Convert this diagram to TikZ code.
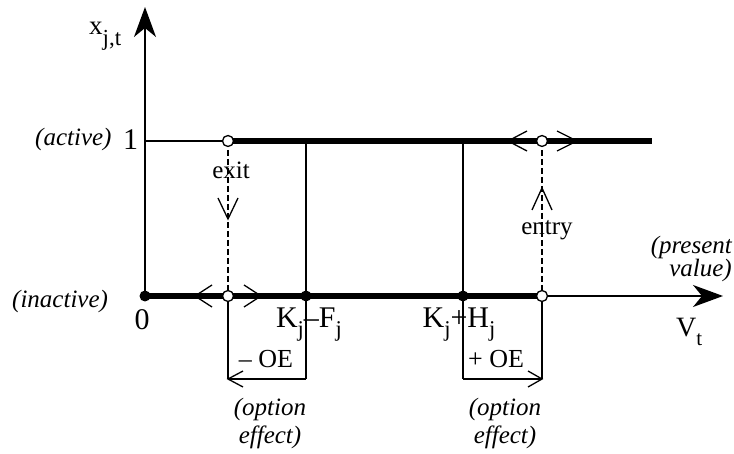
\documentclass[tikz,border=0pt]{standalone}
\usepackage{fontspec}
\setmainfont{Liberation Serif}
\usetikzlibrary{arrows.meta}
\newcommand{\lsub}[1]{\raisebox{-0.3em}{\scalebox{0.75}{#1}}}
\begin{document}
\begin{tikzpicture}[x=1pt,y=-1pt,
  thinline/.style={line width=1.4pt},
  thickline/.style={line width=5.5pt},
  dashline/.style={line width=1.9pt, dash pattern=on 6pt off 3pt},
  axisline/.style={line width=1.4pt, -{Stealth[length=30pt,width=22pt,inset=9pt]}},
  hollow/.style={circle, draw, fill=white, line width=1.3pt, inner sep=0pt, minimum size=11pt},
  soliddot/.style={circle, fill=black, inner sep=0pt, minimum size=11pt},
  barb/.style={line width=1.3pt},
  lbl/.style={font=\fontsize{25}{28}\selectfont, inner sep=0pt},
  big/.style={font=\fontsize{30}{32}\selectfont, inner sep=0pt},
  ital/.style={font=\fontsize{25}{28}\selectfont\itshape, inner sep=0pt, align=center}
]
\useasboundingbox (0,0) rectangle (734,454);
% key points
\coordinate (O) at (145,296);
\coordinate (ytip) at (145,7);
\coordinate (xtip) at (723,296);
\coordinate (Y1) at (145,141);
\coordinate (A) at (228,141);
\coordinate (A0) at (228,296);
\coordinate (A3) at (228,379);
\coordinate (B) at (306,141);
\coordinate (B0) at (306,296);
\coordinate (B3) at (306,379);
\coordinate (C) at (463,141);
\coordinate (C0) at (463,296);
\coordinate (C3) at (463,379);
\coordinate (D) at (542,141);
\coordinate (D0) at (542,296);
\coordinate (D3) at (542,379);
\coordinate (E) at (652,141);
% axes
\draw[axisline] (O) -- (ytip);
\draw[axisline] (O) -- (xtip);
% levels
\draw[thinline] (Y1) -- (A);
\draw[thickline] (A) -- (E);
\draw[thickline] (O) -- (D0);
% verticals
\draw[thinline] (B) -- (B3);
\draw[thinline] (C) -- (C3);
\draw[thinline] (A0) -- (A3);
\draw[thinline] (D0) -- (D3);
\draw[dashline] (A) -- (A0);
\draw[dashline] (D) -- (D0);
% option effect brackets
\draw[thinline] (B3) -- (A3);
\draw[barb, shift={(A3)}] (15,-8) -- (0,0) -- (15,8);
\draw[thinline] (C3) -- (D3);
\draw[barb, shift={(D3)}] (-14,-8) -- (0,0) -- (-14,8);
% direction barbs
\draw[barb, shift={(A0)}] (-16,-11) -- (-33,0) -- (-16,11);
\draw[barb, shift={(A0)}] (16,-11) -- (33,0) -- (16,11);
\draw[barb, shift={(D)}] (-15,-10) -- (-34,0) -- (-15,10);
\draw[barb, shift={(D)}] (15,-10) -- (35,0) -- (15,10);
\draw[barb, shift={(A)}] (-10,57) -- (0,78) -- (10,57);
\draw[barb, shift={(D)}] (-10,69) -- (0,47) -- (10,69);
% dots
\node[soliddot] (dO) at (O) {};
\node[soliddot] (dB) at (B0) {};
\node[soliddot] (dC) at (C0) {};
\node[hollow] (hA) at (A) {};
\node[hollow] (hA0) at (A0) {};
\node[hollow] (hD) at (D) {};
\node[hollow] (hD0) at (D0) {};
% labels
\node[lbl, font=\fontsize{27}{28}\selectfont, anchor=base west] (xlab) at (89,35) {x\raisebox{-0.4em}{\scalebox{0.85}{j,t}}};
\node[ital, anchor=base west] (act) at (35,146) {(active)};
\node[big, anchor=base west] (one) at (123,150) {1};
\node[ital, anchor=base west] (inact) at (12,308) {(inactive)};
\node[big, anchor=base] (zero) at (142,330) {0};
\node[big, anchor=base] (kf) at (309,328) {K\lsub{j}–F\lsub{j}};
\node[big, anchor=base] (kh) at (459,328) {K\lsub{j}+H\lsub{j}};
\node[lbl, anchor=base] (exit) at (231,179) {exit};
\node[lbl, anchor=base] (entry) at (547,235) {entry};
\node[lbl, font=\fontsize{26}{28}\selectfont, anchor=base] (moe) at (266,368) {– OE};
\node[lbl, font=\fontsize{26}{28}\selectfont, anchor=base] (poe) at (496,368) {+ OE};
\node[ital] (oe1) at (270,423) {(option\\effect)};
\node[ital] (oe2) at (505,423) {(option\\effect)};
\node[ital, font=\fontsize{25}{18}\selectfont\itshape, align=right, anchor=east] (pv) at (732,259) {(present\\value)};
\node[lbl, font=\fontsize{28}{30}\selectfont, anchor=base west] (vt) at (676,337) {V\lsub{t}};
\end{tikzpicture}
\end{document}
